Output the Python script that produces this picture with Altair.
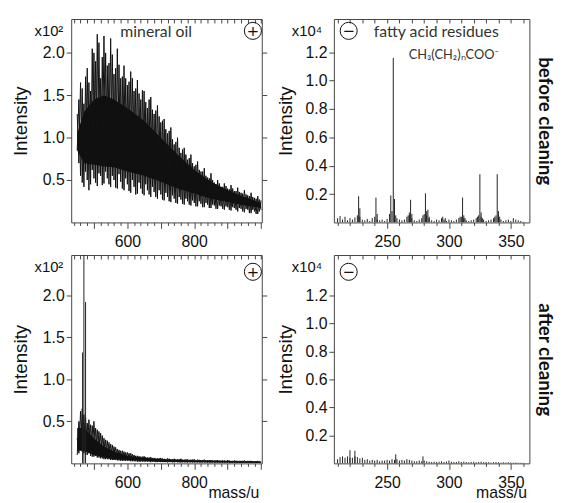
import altair as alt
import pandas as pd

# ---------------- data ----------------
# mineral oil profile spectra, sampled every 5 u (intensity in units of 10^2)
oil_mass = list(range(450, 1001, 5))
# two interleaved traces of the unresolved hump (maxima / minima alternate)
oil_before = [
    1.28, 0.70, 1.65, 0.47, 1.40, 0.60, 1.82, 0.38, 1.55, 0.62,
    2.00, 0.47, 2.22, 0.58, 1.70, 0.44, 2.20, 0.60, 1.85, 0.45,
    2.17, 0.55, 1.75, 0.41, 2.05, 0.57, 1.70, 0.40, 1.85, 0.52,
    1.62, 0.37, 1.78, 0.50, 1.55, 0.33, 1.68, 0.47, 1.45, 0.34,
    1.55, 0.45, 1.35, 0.33, 1.48, 0.42, 1.28, 0.30, 1.38, 0.38,
    1.18, 0.27, 1.22, 0.35, 1.05, 0.25, 1.12, 0.32, 0.92, 0.23,
    1.00, 0.30, 0.82, 0.22, 0.88, 0.28, 0.74, 0.21, 0.80, 0.26,
    0.66, 0.19, 0.72, 0.25, 0.60, 0.18, 0.64, 0.23, 0.53, 0.17,
    0.58, 0.21, 0.47, 0.16, 0.50, 0.20, 0.42, 0.16, 0.46, 0.19,
    0.40, 0.15, 0.44, 0.18, 0.37, 0.15, 0.41, 0.17, 0.35, 0.13,
    0.38, 0.16, 0.32, 0.11, 0.35, 0.15, 0.29, 0.10, 0.31, 0.13,
    0.26,
]
oil_before_b = [
    0.85, 1.45, 0.55, 1.58, 0.42, 1.72, 0.50, 1.65, 0.45, 2.05,
    0.52, 1.90, 0.43, 2.12, 0.55, 1.95, 0.46, 2.00, 0.52, 1.88,
    0.42, 1.98, 0.50, 1.82, 0.40, 1.86, 0.48, 1.72, 0.38, 1.70,
    0.45, 1.66, 0.35, 1.70, 0.42, 1.58, 0.34, 1.52, 0.40, 1.56,
    0.32, 1.42, 0.38, 1.45, 0.30, 1.33, 0.36, 1.32, 0.28, 1.25,
    0.33, 1.20, 0.26, 1.10, 0.30, 1.08, 0.24, 0.98, 0.28, 0.95,
    0.22, 0.88, 0.27, 0.86, 0.21, 0.80, 0.25, 0.76, 0.20, 0.70,
    0.23, 0.68, 0.19, 0.62, 0.22, 0.60, 0.18, 0.55, 0.21, 0.52,
    0.17, 0.50, 0.20, 0.45, 0.16, 0.46, 0.19, 0.42, 0.15, 0.43,
    0.18, 0.39, 0.14, 0.40, 0.17, 0.37, 0.13, 0.36, 0.16, 0.34,
    0.12, 0.33, 0.15, 0.31, 0.11, 0.30, 0.13, 0.28, 0.10, 0.27,
    0.15,
]
oil_after = [
    0.30, 0.12, 0.62, 0.14, 0.58, 0.10, 0.48, 0.12, 0.46, 0.08,
    0.50, 0.09, 0.40, 0.07, 0.36, 0.06, 0.30, 0.05, 0.27, 0.05,
    0.23, 0.04, 0.20, 0.04, 0.17, 0.035, 0.15, 0.03, 0.14, 0.03,
    0.13, 0.03, 0.12, 0.025, 0.10, 0.025, 0.09, 0.02, 0.08, 0.02,
    0.085, 0.02, 0.07, 0.02, 0.075, 0.02, 0.065, 0.015, 0.06, 0.02,
    0.065, 0.015, 0.055, 0.015, 0.06, 0.015, 0.05, 0.012, 0.055, 0.015,
    0.05, 0.012, 0.055, 0.012, 0.045, 0.01, 0.05, 0.012, 0.045, 0.01,
    0.05, 0.01, 0.045, 0.01, 0.04, 0.01, 0.045, 0.01, 0.04, 0.008,
    0.04, 0.01, 0.035, 0.008, 0.04, 0.008, 0.035, 0.008, 0.035, 0.008,
    0.04, 0.006, 0.03, 0.008, 0.035, 0.006, 0.03, 0.006, 0.03, 0.006,
    0.035, 0.005, 0.03, 0.005, 0.03, 0.005, 0.028, 0.005, 0.03, 0.005,
    0.025,
]
oil_after_b = [
    0.10, 0.50, 0.16, 0.65, 0.12, 0.55, 0.10, 0.52, 0.09, 0.45,
    0.08, 0.42, 0.07, 0.38, 0.06, 0.33, 0.05, 0.28, 0.05, 0.25,
    0.04, 0.22, 0.04, 0.19, 0.035, 0.16, 0.03, 0.15, 0.03, 0.13,
    0.03, 0.12, 0.025, 0.11, 0.025, 0.09, 0.02, 0.085, 0.02, 0.08,
    0.02, 0.075, 0.02, 0.07, 0.015, 0.065, 0.02, 0.06, 0.015, 0.062,
    0.015, 0.058, 0.015, 0.05, 0.012, 0.055, 0.015, 0.05, 0.012, 0.048,
    0.012, 0.05, 0.01, 0.045, 0.012, 0.048, 0.01, 0.042, 0.01, 0.045,
    0.01, 0.04, 0.01, 0.042, 0.008, 0.04, 0.01, 0.038, 0.008, 0.04,
    0.008, 0.036, 0.008, 0.038, 0.008, 0.033, 0.008, 0.036, 0.006, 0.032,
    0.008, 0.034, 0.006, 0.03, 0.006, 0.032, 0.006, 0.03, 0.005, 0.03,
    0.005, 0.028, 0.005, 0.03, 0.005, 0.027, 0.005, 0.028, 0.005, 0.025,
    0.005,
]
# dense core of the unresolved hump (lower / upper edge)
core_mass_before = [450, 470, 500, 530, 560, 600, 650, 700, 750, 800, 850, 900, 950, 1000]
core_lo_before = [0.85, 0.70, 0.68, 0.66, 0.65, 0.60, 0.55, 0.48, 0.40, 0.34, 0.28, 0.24, 0.20, 0.17]
core_hi_before = [1.05, 1.30, 1.45, 1.50, 1.45, 1.35, 1.20, 1.00, 0.80, 0.62, 0.48, 0.38, 0.30, 0.23]
core_mass_after = [450, 470, 500, 530, 560, 600, 650, 700, 800, 900, 1000]
core_lo_after = [0.15, 0.15, 0.10, 0.07, 0.05, 0.04, 0.03, 0.02, 0.015, 0.01, 0.008]
core_hi_after = [0.42, 0.42, 0.30, 0.20, 0.14, 0.09, 0.065, 0.05, 0.035, 0.028, 0.02]
# strong lines after cleaning (10^2)
after_peak_mass = [466, 470, 475]
after_peak_int = [1.32, 2.60, 1.92]

# fatty acid residues, negative ions (intensity in units of 10^4)
fa_peak_mass = [227, 228, 241, 242, 253, 255, 256, 257, 267, 268, 269, 270,
                279, 281, 282, 283, 284, 295, 297, 309, 311, 312, 313,
                323, 325, 326, 327, 337, 339, 340, 341]
fa_peak_int = [0.185, 0.10, 0.175, 0.06, 0.19, 1.16, 0.165, 0.05, 0.05, 0.07, 0.16, 0.06,
               0.05, 0.205, 0.08, 0.09, 0.04, 0.04, 0.03, 0.04, 0.175, 0.05, 0.03,
               0.04, 0.34, 0.07, 0.03, 0.04, 0.34, 0.08, 0.04]
noise_mass = list(range(210, 361, 2))
fa_noise = [0.03, 0.045, 0.02, 0.04, 0.015, 0.03, 0.02, 0.035, 0.05, 0.04,
            0.02, 0.015, 0.025, 0.01, 0.03, 0.04, 0.02, 0.015, 0.02, 0.01,
            0.025, 0.06, 0.08, 0.05, 0.03, 0.02, 0.015, 0.02, 0.04, 0.05,
            0.03, 0.015, 0.01, 0.02, 0.03, 0.06, 0.05, 0.03, 0.015, 0.01,
            0.02, 0.015, 0.03, 0.02, 0.01, 0.02, 0.015, 0.01, 0.02, 0.03,
            0.04, 0.03, 0.015, 0.01, 0.015, 0.02, 0.03, 0.05, 0.04, 0.02,
            0.01, 0.015, 0.02, 0.03, 0.05, 0.04, 0.02, 0.01, 0.015, 0.02,
            0.01, 0.03, 0.02, 0.015, 0.01, 0.005]
ac_peak_mass = [220, 224, 257, 279]
ac_peak_int = [0.094, 0.09, 0.065, 0.05]
ac_noise = [0.03, 0.045, 0.05, 0.04, 0.05, 0.04, 0.04, 0.05, 0.045, 0.035,
            0.04, 0.025, 0.03, 0.02, 0.025, 0.02, 0.025, 0.015, 0.02, 0.02,
            0.025, 0.02, 0.03, 0.025, 0.03, 0.02, 0.025, 0.02, 0.03, 0.025,
            0.02, 0.015, 0.015, 0.02, 0.015, 0.02, 0.015, 0.012, 0.01, 0.012,
            0.01, 0.012, 0.015, 0.01, 0.012, 0.02, 0.012, 0.01, 0.01, 0.015,
            0.01, 0.012, 0.01, 0.008, 0.01, 0.012, 0.008, 0.01, 0.012, 0.008,
            0.01, 0.008, 0.006, 0.008, 0.01, 0.008, 0.006, 0.008, 0.006, 0.008,
            0.006, 0.005, 0.006, 0.005, 0.004, 0.004]

left_xticks = list(range(440, 1001, 20))
right_xticks = list(range(210, 361, 10))
left_yticks = [0.5, 1.0, 1.5, 2.0]
right_yticks = [0.2, 0.4, 0.6, 0.8, 1.0, 1.2]

for series in (oil_before, oil_before_b, oil_after, oil_after_b):
    assert len(series) == len(oil_mass)
assert len(fa_noise) == len(noise_mass) and len(ac_noise) == len(noise_mass)

# ---------------- styling ----------------
FONT = "Liberation Sans"
ANN = "Lato"
INK = "#111111"
FRAME = "#444444"

LW, RW = 193, 198
TH, BH = 206, 211


def sticks_df(mass, inten):
    return pd.DataFrame({"m": mass, "i": inten, "z": [0.0] * len(mass)})


def prof(mass, a, b):
    return pd.DataFrame({"m": mass * 2, "i": a + b,
                         "s": ["a"] * len(mass) + ["b"] * len(mass)})


def core(mass, lo, hi):
    return pd.DataFrame({"m": mass, "lo": lo, "hi": hi})


def panel(kind, w, h, ydom, layers_data, sign, note_lines, x_title, row_title):
    left = kind == "left"
    xdom = [432, 1002] if left else [207, 365]
    xticks = left_xticks if left else right_xticks
    major = 100 if left else 50
    shown = "[600, 800]" if left else "[250, 300, 350]"
    yticks = left_yticks if left else right_yticks
    xs = alt.Scale(domain=xdom, nice=False, zero=False)
    ys = alt.Scale(domain=ydom, nice=False, zero=False)

    bottom_axis = alt.Axis(
        orient="bottom", values=xticks, domain=False, grid=False,
        tickSize={"condition": {"test": f"datum.value % {major} === 0", "value": 6}, "value": 3},
        tickColor=FRAME, labelPadding=5,
        labelExpr=f"indexof({shown}, datum.value) >= 0 ? datum.label : ''",
        labelFlush=False, labelOverlap=False,
        title=x_title if x_title else None,
        titleX=w - 3, titleY=35, titleAlign="right", titleBaseline="alphabetic",
        titleAnchor="end", titleFontSize=16, titleFontWeight="normal", titleFont=FONT,
        titleColor=INK,
    )
    top_axis = alt.Axis(
        orient="top", values=xticks, domain=False, grid=False, labels=False,
        tickSize=4, offset=-4, tickColor=FRAME, title=None,
    )
    left_axis = alt.Axis(
        orient="left", values=yticks, format=".1f", domain=False, grid=False,
        tickSize=5, tickColor=FRAME, labelPadding=2,
        title="Intensity", titleX=-51 if left else -49, titleY=h / 2,
        titleAngle=270, titleAlign="center", titleBaseline="middle",
        titleFontSize=19, titleFontWeight="normal", titleFont=FONT, titleColor=INK,
    )
    if left:
        right_axis = alt.Axis(
            orient="right", values=yticks, domain=False, grid=False, labels=False,
            tickSize=5, tickColor=FRAME, title=None,
        )
    else:
        right_axis = alt.Axis(
            orient="right", values=yticks, domain=False, grid=False, labels=False,
            ticks=False, title=row_title, titleX=15, titleY=h / 2, titleAngle=90,
            titleAlign="center", titleBaseline="middle", titleFontSize=19,
            titleFontWeight="bold", titleFont=ANN, titleColor=INK,
        )

    charts = []
    for i, (mk, df) in enumerate(layers_data):
        xa = bottom_axis if i == 0 else (top_axis if i == 1 else None)
        ya = left_axis if i == 0 else (right_axis if i == 1 else None)
        if mk == "area":
            c = alt.Chart(df).mark_area(color=INK, clip=True, opacity=1).encode(
                x=alt.X("m:Q", scale=xs, axis=xa),
                y=alt.Y("lo:Q", scale=ys, axis=ya),
                y2="hi:Q",
            )
        elif mk == "line":
            c = alt.Chart(df).mark_line(color=INK, strokeWidth=1.0, clip=True).encode(
                x=alt.X("m:Q", scale=xs, axis=xa),
                y=alt.Y("i:Q", scale=ys, axis=ya),
                detail="s:N",
            )
        else:
            c = alt.Chart(df).mark_rule(color="#222222", strokeWidth=1, clip=True).encode(
                x=alt.X("m:Q", scale=xs, axis=xa),
                y=alt.Y("i:Q", scale=ys, axis=ya),
                y2="z:Q",
            )
        charts.append(c)

    one = pd.DataFrame({"k": [0]})
    # power-of-ten factor
    charts.append(
        alt.Chart(one).mark_text(
            text="x10²" if left else "x10⁴", align="right", baseline="alphabetic",
            font=FONT, fontSize=15, color=INK,
        ).encode(x=alt.value(-8 if left else -12), y=alt.value(17))
    )
    # ion polarity symbol
    cx = w - 9 if left else 15
    cy = 12 if h == TH else 17
    charts.append(
        alt.Chart(one).mark_point(shape="circle", size=300, filled=False,
                                  color=INK, strokeWidth=1, opacity=1)
        .encode(x=alt.value(cx), y=alt.value(cy))
    )
    charts.append(
        alt.Chart(one).mark_text(text=sign, align="center", baseline="middle",
                                 font="DejaVu Sans", fontSize=15, color=INK)
        .encode(x=alt.value(cx), y=alt.value(cy))
    )
    for txt, xpix, ypix, anchor, fs in note_lines:
        charts.append(
            alt.Chart(one).mark_text(text=txt, align=anchor, baseline="alphabetic",
                                     font=ANN, fontSize=fs, color="#333333")
            .encode(x=alt.value(xpix), y=alt.value(ypix))
        )

    return alt.layer(*charts).resolve_axis(x="independent", y="independent").properties(
        width=w, height=h
    )


tl = panel(
    "left", LW, TH, [0, 2.40],
    [("area", core(core_mass_before, core_lo_before, core_hi_before)),
     ("line", prof(oil_mass, oil_before, oil_before_b))],
    "+", [("mineral oil", 86, 18, "center", 16)], None, None,
)
tr = panel(
    "right", RW, TH, [0, 1.435],
    [("rule", sticks_df(noise_mass, fa_noise)),
     ("rule", sticks_df(fa_peak_mass, fa_peak_int))],
    "−", [("fatty acid residues", 167, 18, "right", 16),
          ("CH₃(CH₂)ₙCOO⁻", 167, 40, "right", 13)],
    None, "before cleaning",
)
bl = panel(
    "left", LW, BH, [0, 2.48],
    [("area", core(core_mass_after, core_lo_after, core_hi_after)),
     ("line", prof(oil_mass, oil_after, oil_after_b)),
     ("rule", sticks_df(after_peak_mass, after_peak_int))],
    "+", [], "mass/u", None,
)
br = panel(
    "right", RW, BH, [0, 1.49],
    [("rule", sticks_df(noise_mass, ac_noise)),
     ("rule", sticks_df(ac_peak_mass, ac_peak_int))],
    "−", [], "mass/u", "after cleaning",
)

chart = alt.vconcat(
    alt.hconcat(tl, tr, spacing=8),
    alt.hconcat(bl, br, spacing=8),
    spacing=4,
).properties(
    padding={"left": 3, "top": 7, "right": 6, "bottom": 0}
).configure_view(
    stroke=FRAME, strokeWidth=1
).configure_axis(
    labelFont=FONT, labelFontSize=16, labelColor=INK,
)

chart.save("out.html", embed_options={"renderer": "svg", "actions": False})
